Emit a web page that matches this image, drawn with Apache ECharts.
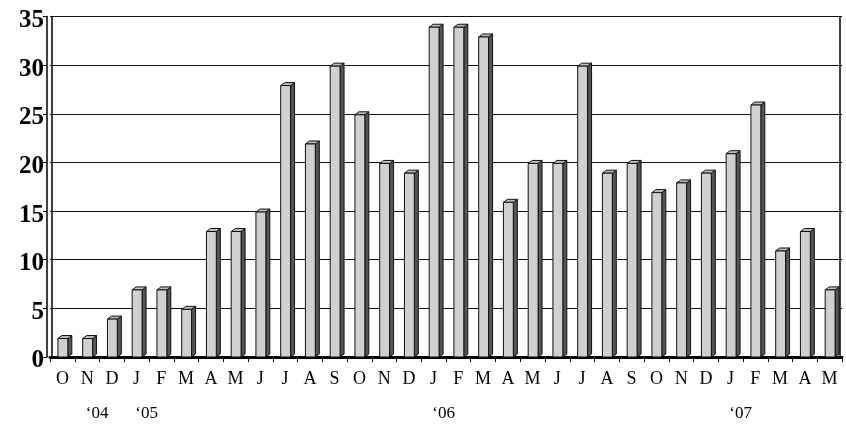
<!DOCTYPE html>
<html><head><meta charset="utf-8">
<script src="https://cdn.jsdelivr.net/npm/echarts@6/dist/echarts.min.js"></script>
<style>html,body{margin:0;padding:0;background:#fff}#c{width:846px;height:426px}</style>
</head><body><div id="c"></div>
<script>
const months = ['O','N','D','J','F','M','A','M','J','J','A','S','O','N','D','J','F','M','A','M','J','J','A','S','O','N','D','J','F','M','A','M'];
const values = [2,2,4,7,7,5,13,13,15,28,22,30,25,20,19,34,34,33,16,20,20,30,19,20,17,18,19,21,26,11,13,7];
const yearLabels = ['','‘04','','‘05','','','','','','','','','','','','‘06','','','','','','','','','','','','‘07','','','',''];
const yTicks = {min:0, max:35, interval:5};

const serif = '"Liberation Serif","DejaVu Serif",serif';
const chart = echarts.init(document.getElementById('c'), null, {renderer:'canvas'});
chart.setOption({
  animation:false,
  backgroundColor:'#fff',
  grid:{left:50, right:4, top:14, bottom:69},
  xAxis:[
    {type:'category', data:months, boundaryGap:true, position:'bottom',
     axisLine:{show:true, lineStyle:{color:'#000', width:3}},
     axisTick:{show:true, length:5, alignWithLabel:false, lineStyle:{color:'#000', width:1}},
     axisLabel:{fontFamily:serif, fontSize:18, color:'#000', margin:13, interval:0},
     splitLine:{show:false}},
    {type:'category', data:yearLabels, boundaryGap:true, position:'bottom', offset:35,
     axisLine:{show:false}, axisTick:{show:false},
     axisLabel:{fontFamily:serif, fontSize:17, color:'#000', margin:13, interval:0, padding:[0,0,0,20]}}
  ],
  yAxis:[
    {type:'value', min:yTicks.min, max:yTicks.max, interval:yTicks.interval, position:'left', offset:-2,
     axisLine:{show:true, lineStyle:{color:'#000', width:1.5}}, axisTick:{show:false}, axisLabel:{show:false},
     splitLine:{show:true, lineStyle:{color:'#111', width:1.2}}},
    {type:'value', min:yTicks.min, max:yTicks.max, interval:yTicks.interval, position:'left', offset:3,
     axisLine:{show:true, lineStyle:{color:'#000', width:1.5}},
     axisTick:{show:true, length:4, lineStyle:{color:'#000'}},
     axisLabel:{color:'#000', margin:3, formatter:'{a|{value}}',
       rich:{a:{fontFamily:serif, fontSize:25, fontWeight:'bold', color:'#000', lineHeight:25, padding:[8,0,0,0]}}},
     splitLine:{show:false}},
    {type:'value', min:yTicks.min, max:yTicks.max, interval:yTicks.interval, position:'right', offset:-2,
     axisLine:{show:true, lineStyle:{color:'#000', width:1.5}}, axisTick:{show:false}, axisLabel:{show:false},
     splitLine:{show:false}}
  ],
  series:[{
    type:'custom', xAxisIndex:0, yAxisIndex:0,
    data: values.map((v,i)=>[i,v]),
    renderItem:function(params, api){
      const i = api.value(0), v = api.value(1);
      const top = api.coord([i, v]);
      const bot = api.coord([i, 0]);
      const bw = api.size([1,0])[0];
      const w = bw*0.40;
      const dx = 4, dy = 3;
      const x0 = top[0]-w/2+0.5, x1 = x0 + w;
      const yt = top[1]+1, yb = bot[1];
      const edge = {stroke:'#111', lineWidth:1};
      return {type:'group', children:[
        {type:'polygon', shape:{points:[[x1,yt],[x1+dx,yt-dy],[x1+dx,yb-dy],[x1,yb]]},
          style:Object.assign({fill:'#555'}, edge)},
        {type:'polygon', shape:{points:[[x0,yt],[x1,yt],[x1+dx,yt-dy],[x0+dx,yt-dy]]},
          style:Object.assign({fill:'#bdbdbd'}, edge)},
        {type:'rect', shape:{x:x0, y:yt, width:w, height:yb-yt},
          style:Object.assign({fill:'#d0d0d0'}, edge)}
      ]};
    }
  }]
});
</script></body></html>
